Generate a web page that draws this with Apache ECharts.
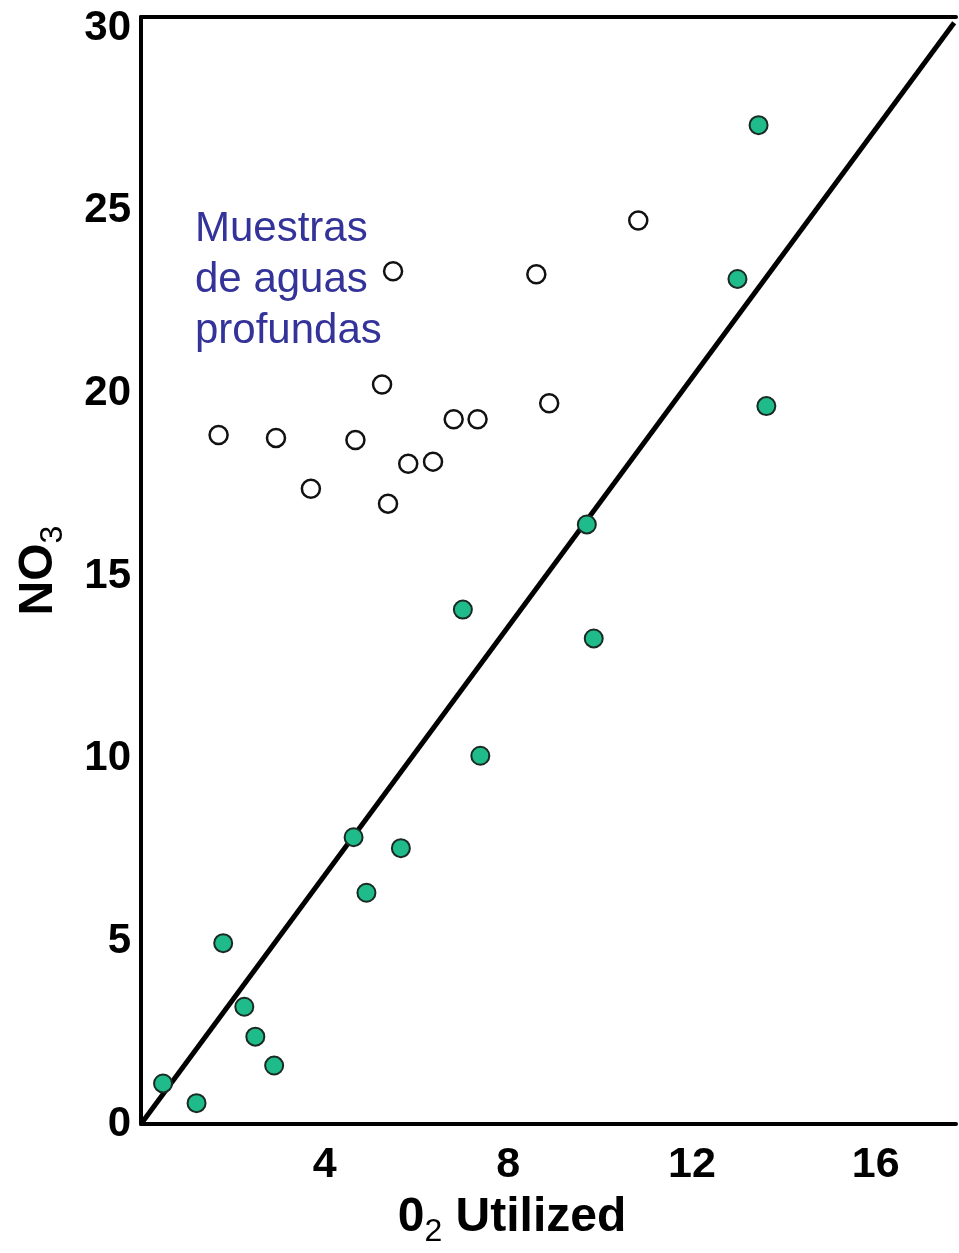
<!DOCTYPE html>
<html>
<head>
<meta charset="utf-8">
<script src="https://cdn.jsdelivr.net/npm/echarts@6/dist/echarts.min.js"></script>
<style>
html,body{margin:0;padding:0;background:#fff;}
#chart{width:959px;height:1253px;}
</style>
</head>
<body>
<div id="chart"></div>
<script>
// Deep-water samples (hollow circles)
const deepX = [1.69, 2.94, 3.70, 4.67, 5.25, 5.38, 5.49, 5.82, 6.36, 6.81, 7.33, 8.61, 8.89, 10.83];
const deepY = [18.86, 18.78, 17.39, 18.72, 20.24, 16.98, 23.34, 18.07, 18.13, 19.29, 19.29, 23.26, 19.73, 24.73];
// Other samples (green filled circles)
const greenX = [0.48, 1.21, 1.79, 2.25, 2.49, 2.90, 4.63, 4.91, 5.66, 7.01, 7.39, 9.71, 9.86, 12.99, 13.45, 13.62];
const greenY = [1.11, 0.57, 4.95, 3.21, 2.39, 1.60, 7.85, 6.33, 7.55, 14.08, 10.08, 16.41, 13.29, 23.13, 27.34, 19.65];
// Reference line
const lineX = [0, 17.71];
const lineY = [0, 30.14];
const xTicks = [4, 8, 12, 16];
const yTicks = [0, 5, 10, 15, 20, 25, 30];
const annotation = 'Muestras\nde aguas\nprofundas';

const FONT = 'Liberation Sans, Arial, sans-serif';
const zip = (a, b) => a.map((v, i) => [v, b[i]]);

const chart = echarts.init(document.getElementById('chart'), null, {renderer: 'canvas'});
chart.setOption({
  animation: false,
  backgroundColor: '#ffffff',
  grid: {left: 138, right: 0, top: 17, bottom: 121, containLabel: false},
  xAxis: [{
    type: 'value', min: 0, max: 17.75, interval: 4, position: 'bottom',
    axisLine: {show: true, onZero: false, lineStyle: {color: '#000', width: 4}},
    axisTick: {show: false}, splitLine: {show: false},
    axisLabel: {
      fontSize: 43, fontWeight: 'bold', color: '#000', fontFamily: FONT, margin: 20,
      formatter: v => xTicks.includes(v) ? String(v) : ''
    },
    name: '0{s|2} Utilized', nameLocation: 'middle', nameGap: 63, nameMoveOverlap: false,
    nameTextStyle: {
      fontSize: 48, fontWeight: 'bold', color: '#000', fontFamily: FONT, lineHeight: 61,
      padding: [0, 73, 0, 0],
      rich: {s: {fontSize: 32, fontWeight: 'normal', color: '#000', fontFamily: FONT, lineHeight: 32, verticalAlign: 'bottom'}}
    }
  }, {
    type: 'value', min: 0, max: 17.75, position: 'top',
    axisLine: {show: true, onZero: false, lineStyle: {color: '#000', width: 4}},
    axisTick: {show: false}, splitLine: {show: false}, axisLabel: {show: false}
  }],
  yAxis: {
    type: 'value', min: 0, max: 30.3, interval: 5,
    axisLine: {show: true, onZero: false, lineStyle: {color: '#000', width: 4}},
    axisTick: {show: false}, splitLine: {show: false},
    axisLabel: {
      fontSize: 42, fontWeight: 'bold', color: '#000', fontFamily: FONT, margin: 10,
      formatter: v => yTicks.includes(v) ? String(v) : ''
    },
    name: 'NO{s|3}', nameLocation: 'middle', nameGap: 72, nameMoveOverlap: false,
    nameTextStyle: {
      fontSize: 48, fontWeight: 'bold', color: '#000', fontFamily: FONT, lineHeight: 61,
      rich: {s: {fontSize: 32, fontWeight: 'normal', color: '#000', fontFamily: FONT, lineHeight: 32, verticalAlign: 'bottom'}}
    }
  },
  graphic: [{
    type: 'text', left: 195, top: 204, z: 10,
    style: {text: annotation, fill: '#333399', font: '42px ' + FONT, lineHeight: 51}
  }],
  series: [{
    type: 'line', data: zip(lineX, lineY), symbol: 'none', silent: true,
    lineStyle: {color: '#000', width: 5}, z: 2
  }, {
    type: 'scatter', data: zip(deepX, deepY), symbol: 'circle', symbolSize: 18,
    itemStyle: {color: '#ffffff', borderColor: '#111', borderWidth: 2.5, opacity: 1}, z: 3
  }, {
    type: 'scatter', data: zip(greenX, greenY), symbol: 'circle', symbolSize: 18,
    itemStyle: {color: '#1fbb8b', borderColor: '#1a2a22', borderWidth: 2, opacity: 1}, z: 3
  }]
});
</script>
</body>
</html>
